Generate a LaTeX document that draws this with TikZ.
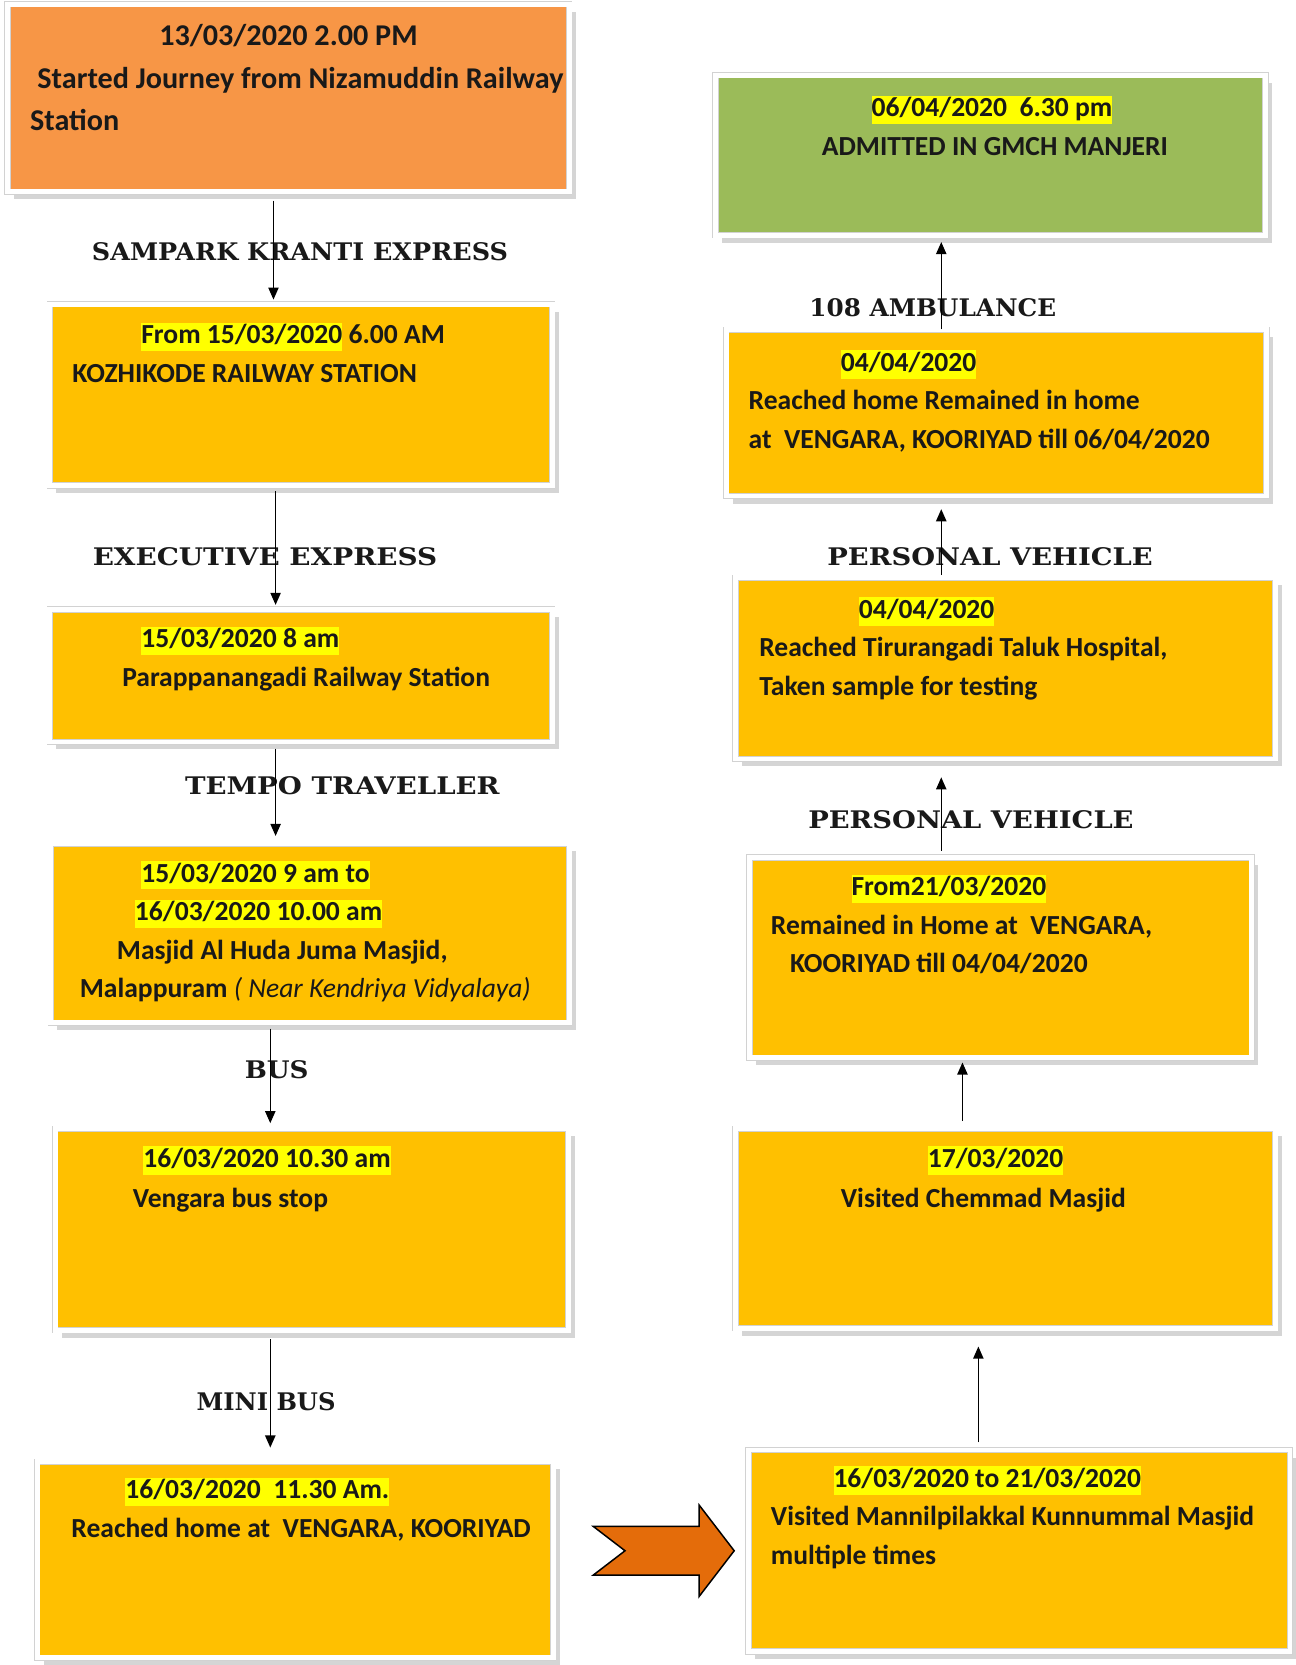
\documentclass[tikz,border=0pt]{standalone}
\usepackage{fontspec}
\setmainfont{Carlito}
\newfontfamily\lblfont{DejaVu Serif}
\usetikzlibrary{positioning,arrows.meta,fit,shadows}
\definecolor{boxorange}{HTML}{F79646}
\definecolor{boxyellow}{HTML}{FFC000}
\definecolor{boxgreen}{HTML}{9BBB59}
\definecolor{hlyellow}{HTML}{FFFF00}
\definecolor{chevronfill}{HTML}{E46C0A}
\newcommand{\hlt}[1]{{\setlength{\fboxsep}{0pt}\colorbox{hlyellow}{\rule[-0.27em]{0pt}{1.03em}#1}}}
\newcommand{\wide}[2]{\scalebox{#1}[1]{#2}}
\tikzset{
  card/.style={inner sep=1.7pt, draw=gray!35, line width=0.4pt, double=white, double distance=2.6pt,
               drop shadow={shadow xshift=3.5pt, shadow yshift=-4pt, fill=gray!65}},
  ocard/.style={card, fill=boxorange},
  ycard/.style={card, fill=boxyellow},
  gcard/.style={card, fill=boxgreen},
  boxtext/.style={anchor=north west, align=left, inner sep=0pt, text=black!90,
                  font=\bfseries\fontsize{14.8}{20.7}\selectfont},
  mode/.style={inner sep=0pt, text=black!90, font=\lblfont\bfseries\fontsize{13}{15}\selectfont},
  fwd/.style={-{Triangle[width=5.5pt,length=6.5pt]}, line width=0.8pt},
  chevron/.style={draw=black, line width=0.8pt, fill=chevronfill, line join=miter},
}
\begin{document}
\begin{tikzpicture}[x=0.02cm, y=-0.02cm]
\useasboundingbox (0,0) rectangle (1222.6,1570.8);

%Boxes, left column
\node[ocard, fit={(10,7) (534,178)}] (start) {};
\node[ycard, fit={(50,290) (518,455)}] (kozhikode) {};
\node[ycard, fit={(50,578) (518,697)}] (parappanangadi) {};
\node[ycard, fit={(51,799) (534,962)}] (masjid) {};
\node[ycard, fit={(55,1068) (533,1252)}] (busstop) {};
\node[ycard, fit={(38,1382) (519,1561)}] (home) {};

%Boxes, right column
\node[gcard, fit={(678,74) (1191,219)}] (gmch) {};
\node[ycard, fit={(688,314) (1192,465)}] (homeTill) {};
\node[ycard, fit={(697,548) (1200,713)}] (taluk) {};
\node[ycard, fit={(710,812) (1178,995)}] (remained) {};
\node[ycard, fit={(697,1068) (1200,1250)}] (chemmad) {};
\node[ycard, fit={(709,1371) (1214,1555)}] (mannil) {};

%Texts
\node[boxtext, font=\bfseries\fontsize{16.2}{22.7}\selectfont] (startText) at (28,23)
  {\hspace*{2.44cm}13/03/2020 2.00 PM\\ \hspace*{0.14cm}Started Journey from Nizamuddin Railway\\ Station};
\node[boxtext] (kozhikodeText) at (68,304)
  {\hspace*{1.30cm}\hlt{From 15/03/2020} 6.00 AM\\ KOZHIKODE RAILWAY STATION};
\node[boxtext] (parappanangadiText) at (115,591)
  {\hspace*{0.36cm}\hlt{15/03/2020 8 am}\\ Parappanangadi Railway Station};
\node[boxtext] (masjidText) at (75,812)
  {\hspace*{1.16cm}\hlt{15/03/2020 9 am to}\\ \hspace*{1.04cm}\hlt{16/03/2020 10.00 am}\\
   \hspace*{0.70cm}Masjid Al Huda Juma Masjid,\\ Malappuram {\mdseries\itshape ( Near Kendriya Vidyalaya)}};
\node[boxtext, font=\bfseries\fontsize{14.8}{21.5}\selectfont] (busstopText) at (125,1081)
  {\hspace*{0.20cm}\hlt{16/03/2020 10.30 am}\\ Vengara bus stop};
\node[boxtext] (homeText) at (67,1394)
  {\hspace*{1.02cm}\hlt{16/03/2020~~11.30 Am.}\\ Reached home at~~VENGARA, KOORIYAD};
\node[boxtext] (gmchText) at (775,90)
  {\hspace*{0.94cm}\hlt{06/04/2020~~6.30 pm}\\ ADMITTED IN GMCH MANJERI};
\node[boxtext] (homeTillText) at (706,330)
  {\hspace*{1.74cm}\hlt{04/04/2020}\\ Reached home Remained in home\\ at~~VENGARA, KOORIYAD till 06/04/2020};
\node[boxtext] (talukText) at (716,563)
  {\hspace*{1.88cm}\hlt{04/04/2020}\\ Reached Tirurangadi Taluk Hospital,\\ Taken sample for testing};
\node[boxtext] (remainedText) at (727,825)
  {\hspace*{1.52cm}\hlt{From21/03/2020}\\ Remained in Home at~~VENGARA,\\ \hspace*{0.36cm}KOORIYAD till 04/04/2020};
\node[boxtext, font=\bfseries\fontsize{14.8}{21.5}\selectfont] (chemmadText) at (793,1081)
  {\hspace*{1.64cm}\hlt{17/03/2020}\\ Visited Chemmad Masjid};
\node[boxtext] (mannilText) at (727,1383)
  {\hspace*{1.18cm}\hlt{16/03/2020 to 21/03/2020}\\ Visited Mannilpilakkal Kunnummal Masjid\\ multiple times};

%Transport labels
\node[mode] (sampark) at (283,237) {\wide{1.05}{SAMPARK KRANTI EXPRESS}};
\node[mode] (executive) at (250,525) {\wide{1.15}{EXECUTIVE EXPRESS}};
\node[mode] (tempo) at (323,741) {\wide{1.14}{TEMPO TRAVELLER}};
\node[mode] (bus) at (261,1009) {\wide{1.08}{BUS}};
\node[mode] (minibus) at (251,1322) {MINI BUS};
\node[mode] (ambulance) at (880,290) {\wide{1.02}{108 AMBULANCE}};
\node[mode] (vehicleA) at (934,525) {\wide{1.13}{PERSONAL VEHICLE}};
\node[mode] (vehicleB) at (916,773) {\wide{1.13}{PERSONAL VEHICLE}};

%Lines
\draw[fwd, shorten <=0.16cm, shorten >=0.08cm] (start.south -| 258,0) -- (kozhikode.north -| 258,0);
\draw[fwd, shorten <=0.10cm, shorten >=0.08cm] (kozhikode.south -| 260,0) -- (parappanangadi.north -| 260,0);
\draw[fwd, shorten <=0.12cm, shorten >=0.14cm] (parappanangadi.south -| 260,0) -- (masjid.north -| 260,0);
\draw[fwd, shorten <=0.10cm, shorten >=0.10cm] (masjid.south -| 255,0) -- (busstop.north -| 255,0);
\draw[fwd, shorten <=0.16cm, shorten >=0.26cm] (busstop.south -| 255,0) -- (home.north -| 255,0);
\draw[chevron] (mannil.west) ++(-13,0) -- ++(-33,-43) -- ++(0,20) -- ++(-100,0) -- ++(30,23)
  -- ++(-30,23) -- ++(100,0) -- ++(0,20) -- cycle;
\draw[fwd, shorten <=0.14cm, shorten >=0.34cm] (mannil.north -| 923,0) -- (chemmad.south -| 923,0);
\draw[fwd, shorten <=0.14cm, shorten >=0.08cm] (chemmad.north -| 908,0) -- (remained.south -| 908,0);
\draw[fwd, shorten <=0.12cm, shorten >=0.34cm] (remained.north -| 888,0) -- (taluk.south -| 888,0);
\draw[fwd, shorten <=0.04cm, shorten >=0.24cm] (taluk.north -| 888,0) -- (homeTill.south -| 888,0);
\draw[fwd, shorten >=0.12cm] (homeTill.north -| 888,0) -- (gmch.south -| 888,0);
\end{tikzpicture}
\end{document}
